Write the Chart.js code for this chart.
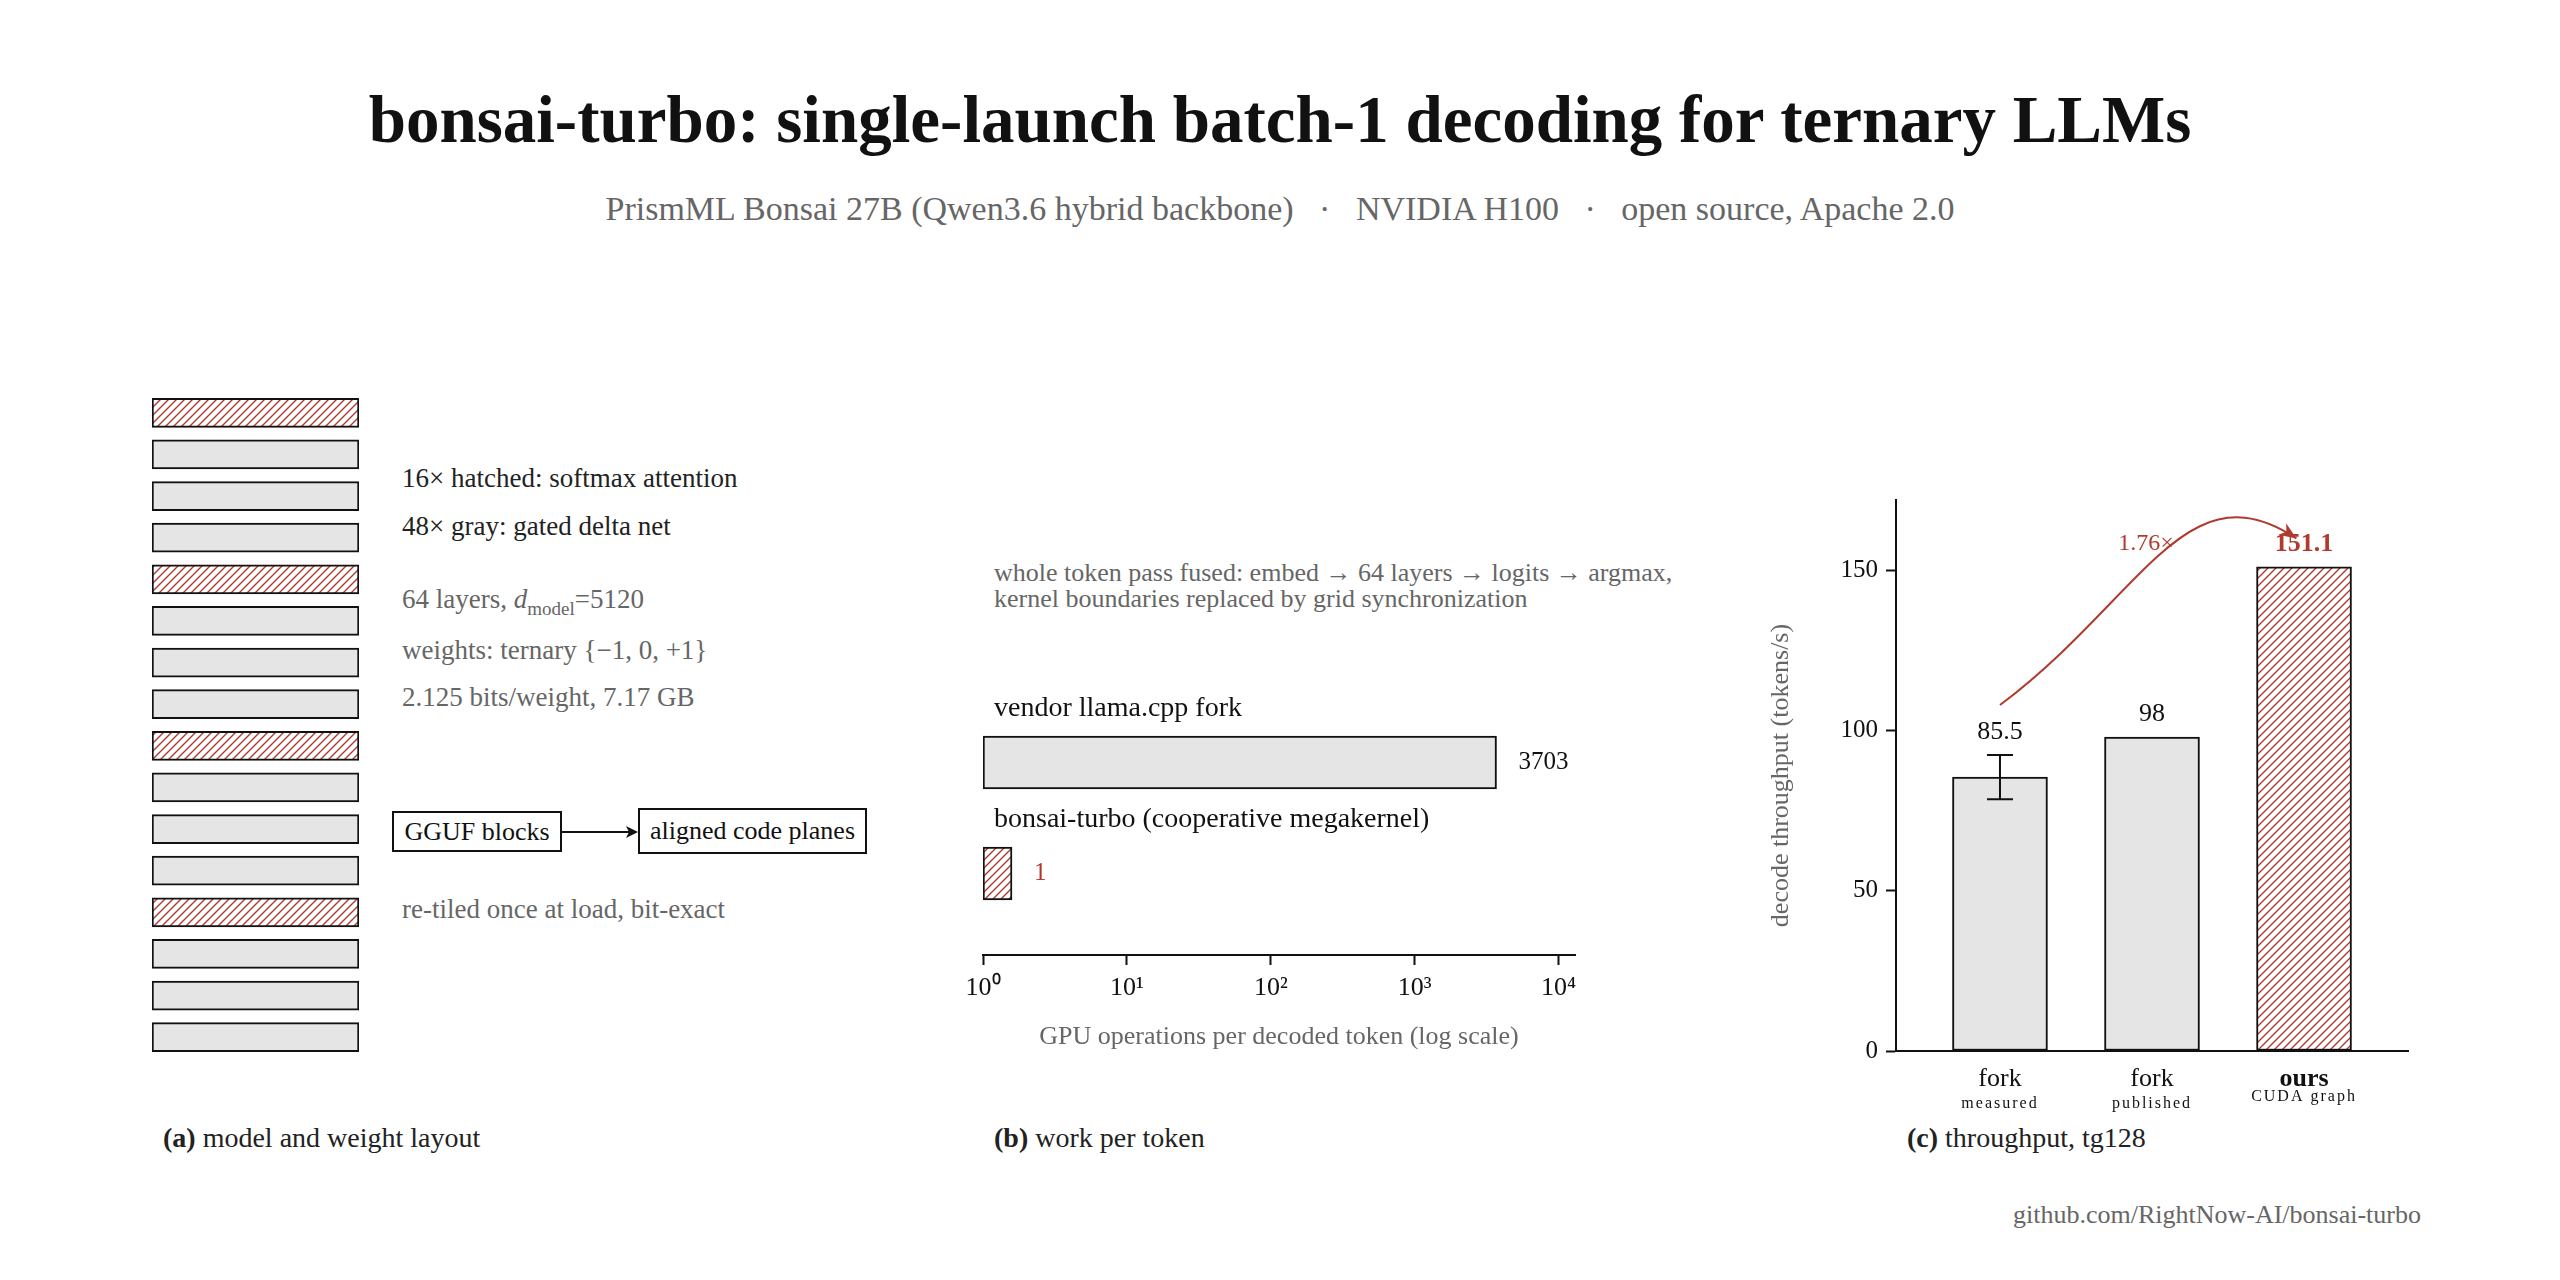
<!DOCTYPE html>
<html lang="en">
<head>
<meta charset="UTF-8">
<title>bonsai-turbo: single-launch batch-1 decoding</title>
<script src="https://cdn.jsdelivr.net/npm/chart.js"></script>
<style>
  body { margin: 0; background: #fff; font-family: "Liberation Serif", serif; color: #222; }
  #page { position: relative; width: 2560px; height: 1280px; overflow: hidden; }
  .t { position: absolute; white-space: nowrap; line-height: 1; transform: translateY(-50%); }
  .gray { color: #666; }
  .box { position: absolute; border: 2px solid #111; background: #fff; box-sizing: border-box;
         display: flex; align-items: center; justify-content: center; font-size: 26px; color: #111; }
  canvas { position: absolute; }
</style>
</head>
<body>
<div id="page">
  <div class="t" style="left:0;width:2560px;text-align:center;top:119px;font-size:67px;font-weight:bold;color:#111">bonsai-turbo: single-launch batch-1 decoding for ternary LLMs</div>
  <div class="t gray" style="left:0;width:2560px;text-align:center;top:209px;font-size:34px">PrismML Bonsai 27B (Qwen3.6 hybrid backbone) &nbsp; · &nbsp; NVIDIA H100 &nbsp; · &nbsp; open source, Apache 2.0</div>

  <!-- (a) notes -->
  <div class="t" style="left:402px;top:478px;font-size:27px">16× hatched: softmax attention</div>
  <div class="t" style="left:402px;top:526px;font-size:27px">48× gray: gated delta net</div>
  <div class="t gray" style="left:402px;top:602px;font-size:27px">64 layers, <i>d</i><sub style="font-size:19px">model</sub>=5120</div>
  <div class="t gray" style="left:402px;top:650px;font-size:27px">weights: ternary {−1, 0, +1}</div>
  <div class="t gray" style="left:402px;top:697px;font-size:27px">2.125 bits/weight, 7.17 GB</div>
  <div class="box" style="left:392px;top:811px;width:170px;height:41px">GGUF blocks</div>
  <svg style="position:absolute;left:562px;top:822px" width="78" height="20">
    <line x1="0" y1="10" x2="68" y2="10" stroke="#111" stroke-width="2"/>
    <polygon points="76,10 64,4 67,10 64,16" fill="#111"/>
  </svg>
  <div class="box" style="left:638px;top:808px;width:229px;height:46px">aligned code planes</div>
  <div class="t gray" style="left:402px;top:909px;font-size:27px">re-tiled once at load, bit-exact</div>

  <!-- (b) notes -->
  <div class="t gray" style="left:994px;top:573px;font-size:26px">whole token pass fused: embed → 64 layers → logits → argmax,</div>
  <div class="t gray" style="left:994px;top:599px;font-size:26px">kernel boundaries replaced by grid synchronization</div>

  <!-- panel captions -->
  <div class="t" style="left:163px;top:1138px;font-size:28px"><b>(a)</b> model and weight layout</div>
  <div class="t" style="left:994px;top:1138px;font-size:28px"><b>(b)</b> work per token</div>
  <div class="t" style="left:1907px;top:1138px;font-size:28px"><b>(c)</b> throughput, tg128</div>
  <div class="t gray" style="right:139px;top:1215px;font-size:26px">github.com/RightNow-AI/bonsai-turbo</div>

  <canvas id="layers" width="240" height="700" style="left:140px;top:380px"></canvas>
  <canvas id="ops" width="700" height="520" style="left:940px;top:560px"></canvas>
  <canvas id="tput" width="700" height="700" style="left:1760px;top:460px"></canvas>
</div>

<script>
// (a) layer stack, top to bottom
const layerKinds = ['attn', 'gdn', 'gdn', 'gdn', 'attn', 'gdn', 'gdn', 'gdn',
                    'attn', 'gdn', 'gdn', 'gdn', 'attn', 'gdn', 'gdn', 'gdn'];
const layerSpan = [1, 1, 1, 1, 1, 1, 1, 1, 1, 1, 1, 1, 1, 1, 1, 1];

// (b) GPU operations per token
const opNames = ['vendor llama.cpp fork', 'bonsai-turbo (cooperative megakernel)'];
const opCounts = [3703, 1];
const opTicks = [1, 10, 100, 1000, 10000];
const opTickLabels = ['10⁰', '10¹', '10²', '10³', '10⁴'];

// (c) decode throughput, tokens/s
const tputNames = ['fork', 'fork', 'ours'];
const tputNotes = ['measured', 'published', 'CUDA graph'];
const tputValues = [85.5, 98, 151.1];
const tputErrors = [6.9, 0, 0];
const tputTicks = [0, 50, 100, 150];
const speedupLabel = '1.76×';

const INK = '#111';
const GRAY = '#e5e5e5';
const RED = '#b03a2e';
const SERIF = '"Liberation Serif", serif';

function hatch(color) {
    const c = document.createElement('canvas');
    c.width = 8; c.height = 8;
    const g = c.getContext('2d');
    g.fillStyle = '#fff';
    g.fillRect(0, 0, 8, 8);
    g.strokeStyle = color;
    g.lineWidth = 1.4;
    g.beginPath();
    g.moveTo(0, 8); g.lineTo(8, 0);
    g.moveTo(-2, 2); g.lineTo(2, -2);
    g.moveTo(6, 10); g.lineTo(10, 6);
    g.stroke();
    return g.createPattern(c, 'repeat');
}
const HATCH = hatch(RED);

const quiet = { legend: { display: false }, tooltip: { enabled: false } };

// ---- (a) model layout
new Chart(document.getElementById('layers'), {
    type: 'bar',
    data: {
        labels: layerKinds.map((k, i) => k + i),
        datasets: [{
            data: layerSpan,
            backgroundColor: layerKinds.map(k => k === 'attn' ? HATCH : GRAY),
            borderColor: INK,
            borderWidth: 2,
            borderSkipped: false,
            barThickness: 29
        }]
    },
    options: {
        indexAxis: 'y',
        responsive: false,
        animation: false,
        layout: { padding: { left: 12, right: 21, top: 12, bottom: 22 } },
        plugins: quiet,
        scales: {
            x: { display: false, min: 0, max: 1 },
            y: { display: false }
        }
    }
});

// ---- (b) work per token
const opLabels = {
    id: 'opLabels',
    afterDatasetsDraw(chart) {
        const ctx = chart.ctx;
        const left = chart.scales.x.left;
        chart.getDatasetMeta(0).data.forEach((bar, i) => {
            ctx.save();
            ctx.textBaseline = 'middle';
            ctx.font = '28px ' + SERIF;
            ctx.fillStyle = INK;
            ctx.fillText(opNames[i], left + 11, bar.y - 54);
            ctx.font = '25px ' + SERIF;
            ctx.fillStyle = i === 1 ? RED : INK;
            ctx.fillText(String(opCounts[i]), bar.x + 22, bar.y);
            ctx.restore();
        });
    }
};

new Chart(document.getElementById('ops'), {
    type: 'bar',
    data: {
        datasets: [{
            data: opCounts.map((v, i) => ({ x: v, y: i })),
            backgroundColor: [GRAY, HATCH],
            borderColor: INK,
            borderWidth: 2,
            borderSkipped: false,
            barThickness: 53,
            minBarLength: 29
        }]
    },
    options: {
        indexAxis: 'y',
        responsive: false,
        animation: false,
        layout: { padding: { left: 43, right: 65, top: 40, bottom: 0 } },
        plugins: quiet,
        scales: {
            x: {
                type: 'logarithmic',
                min: 1,
                max: 13000,
                offset: false,
                afterBuildTicks: s => { s.ticks = opTicks.map(v => ({ value: v })); },
                afterFit: s => { s.height = 125; },
                ticks: {
                    callback: (v, i) => opTickLabels[i],
                    color: INK,
                    font: { family: SERIF, size: 26 },
                    padding: 8,
                    autoSkip: false,
                    maxRotation: 0
                },
                grid: { drawOnChartArea: false, drawTicks: true, tickLength: 10, tickColor: INK, tickWidth: 2 },
                border: { display: true, color: INK, width: 2 },
                title: {
                    display: true,
                    text: 'GPU operations per decoded token (log scale)',
                    color: '#666',
                    font: { family: SERIF, size: 26 },
                    padding: { top: 0, bottom: 27 }
                }
            },
            y: { type: 'linear', display: false, offset: false, min: -1.464, max: 1.734, reverse: true }
        }
    },
    plugins: [opLabels]
});

// ---- (c) throughput
const tputMarks = {
    id: 'tputMarks',
    afterDatasetsDraw(chart) {
        const ctx = chart.ctx;
        const xs = chart.scales.x, ys = chart.scales.y;
        ctx.save();
        // error bars
        ctx.strokeStyle = INK;
        ctx.lineWidth = 2;
        tputErrors.forEach((e, i) => {
            if (!e) return;
            const x = xs.getPixelForValue(i);
            const hi = ys.getPixelForValue(tputValues[i] + e);
            const lo = ys.getPixelForValue(tputValues[i] - e);
            ctx.beginPath();
            ctx.moveTo(x, hi); ctx.lineTo(x, lo);
            ctx.moveTo(x - 13, hi); ctx.lineTo(x + 13, hi);
            ctx.moveTo(x - 13, lo); ctx.lineTo(x + 13, lo);
            ctx.stroke();
        });
        // value labels
        ctx.textAlign = 'center';
        ctx.textBaseline = 'middle';
        const last = tputValues.length - 1;
        tputValues.forEach((v, i) => {
            const y = ys.getPixelForValue(v + tputErrors[i]) - 23;
            ctx.font = (i === last ? 'bold ' : '') + '26px ' + SERIF;
            ctx.fillStyle = i === last ? RED : INK;
            ctx.fillText(String(v), xs.getPixelForValue(i), y);
        });
        // speedup arrow, fork measured -> ours
        const P = (x, y) => [xs.getPixelForValue(x), ys.getPixelForValue(y)];
        const s = P(0, 108), c1 = P(0.93, 141), c2 = P(1.22, 183), e = P(1.95, 160);
        ctx.strokeStyle = RED;
        ctx.fillStyle = RED;
        ctx.lineWidth = 2;
        ctx.beginPath();
        ctx.moveTo(s[0], s[1]);
        ctx.bezierCurveTo(c1[0], c1[1], c2[0], c2[1], e[0], e[1]);
        ctx.stroke();
        const a = Math.atan2(e[1] - c2[1], e[0] - c2[0]);
        ctx.beginPath();
        ctx.moveTo(e[0], e[1]);
        ctx.lineTo(e[0] - 17 * Math.cos(a) + 7 * Math.sin(a), e[1] - 17 * Math.sin(a) - 7 * Math.cos(a));
        ctx.lineTo(e[0] - 12 * Math.cos(a), e[1] - 12 * Math.sin(a));
        ctx.lineTo(e[0] - 17 * Math.cos(a) - 7 * Math.sin(a), e[1] - 17 * Math.sin(a) + 7 * Math.cos(a));
        ctx.closePath();
        ctx.fill();
        ctx.font = '24px ' + SERIF;
        ctx.fillText(speedupLabel, xs.getPixelForValue(0.96), ys.getPixelForValue(tputValues[last]) - 23);
        // sub-labels under the category names
        ctx.fillStyle = INK;
        ctx.font = '16px ' + SERIF;
        ctx.letterSpacing = '2px';
        tputNotes.forEach((n, i) => {
            ctx.fillText(n, xs.getPixelForValue(i), xs.top + (i === last ? 46 : 53));
        });
        ctx.restore();
    }
};

new Chart(document.getElementById('tput'), {
    type: 'bar',
    data: {
        datasets: [{
            data: tputValues.map((v, i) => ({ x: i, y: v })),
            backgroundColor: [GRAY, GRAY, HATCH],
            borderColor: INK,
            borderWidth: 2,
            borderSkipped: false,
            barThickness: 95
        }]
    },
    options: {
        responsive: false,
        animation: false,
        layout: { padding: { left: 0, right: 52, top: 40, bottom: 0 } },
        plugins: quiet,
        scales: {
            x: {
                type: 'linear',
                min: -0.684,
                max: 2.684,
                offset: false,
                afterBuildTicks: s => { s.ticks = tputNames.map((n, i) => ({ value: i })); },
                afterFit: s => { s.height = 109; },
                ticks: {
                    callback: v => tputNames[v],
                    color: INK,
                    font: ctx => ({ family: SERIF, size: 26, weight: ctx.index === 2 ? 'bold' : 'normal' }),
                    padding: 13,
                    autoSkip: false,
                    maxRotation: 0
                },
                grid: { drawOnChartArea: false, drawTicks: false, offset: false },
                border: { display: true, color: INK, width: 2 }
            },
            y: {
                min: 0,
                max: 172,
                afterBuildTicks: s => { s.ticks = tputTicks.map(v => ({ value: v })); },
                afterFit: s => { s.width = 136; },
                ticks: { color: INK, font: { family: SERIF, size: 25 }, padding: 8 },
                grid: { drawOnChartArea: false, drawTicks: true, tickLength: 10, tickColor: INK, tickWidth: 2 },
                border: { display: true, color: INK, width: 2 },
                title: {
                    display: true,
                    text: 'decode throughput (tokens/s)',
                    color: '#666',
                    font: { family: SERIF, size: 26 },
                    padding: { top: 6, bottom: 0 }
                }
            }
        }
    },
    plugins: [tputMarks]
});
</script>
</body>
</html>
